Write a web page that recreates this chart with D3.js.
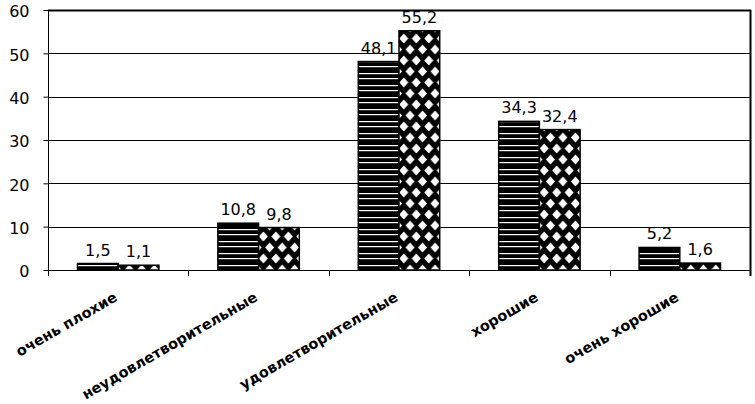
<!DOCTYPE html>
<html>
<head>
<meta charset="utf-8">
<script src="https://cdn.jsdelivr.net/npm/d3@7"></script>
<style>
  html, body { margin: 0; padding: 0; background: #fff; }
  svg { display: block; }
</style>
</head>
<body>
<svg id="chart" width="755" height="404"></svg>
<script>
const categories = ["очень плохие", "неудовлетворительные", "удовлетворительные", "хорошие", "очень хорошие"];
const seriesNames = ["s1", "s2"];
const series1 = [1.5, 10.8, 48.1, 34.3, 5.2];
const series2 = [1.1, 9.8, 55.2, 32.4, 1.6];
const yTicks = [0, 10, 20, 30, 40, 50, 60];

const svg = d3.select("#chart");
const mLeft = 48, mRight = 750, mTop = 10, mBottom = 270;

const x = d3.scaleBand().domain(categories).range([mLeft, mRight]).padding(0);
const bw = x.bandwidth();
const x1 = d3.scaleBand().domain(seriesNames).range([bw * 0.21, bw * 0.79]).padding(0);
const y = d3.scaleLinear().domain([0, 60]).range([mBottom, mTop]);

// patterns
const defs = svg.append("defs");
const pStr = defs.append("pattern").attr("id", "stripes")
  .attr("patternUnits", "userSpaceOnUse").attr("width", 8).attr("height", 12);
pStr.append("rect").attr("width", 8).attr("height", 12).attr("fill", "#000");
pStr.append("rect").attr("x", 0).attr("y", 1).attr("width", 8).attr("height", 1.2).attr("fill", "#fff");
pStr.append("rect").attr("x", 0).attr("y", 6).attr("width", 8).attr("height", 1.2).attr("fill", "#fff");

const pDia = defs.append("pattern").attr("id", "diamonds")
  .attr("patternUnits", "userSpaceOnUse").attr("width", 12.5).attr("height", 22);
pDia.append("rect").attr("width", 12.5).attr("height", 22).attr("fill", "#000");
pDia.append("path").attr("fill", "#fff")
  .attr("d", "M6.25 0.5L10.75 5.5L6.25 10.5L1.75 5.5Z" +
             "M0 11.5L4.5 16.5L0 21.5L-4.5 16.5Z" +
             "M12.5 11.5L17 16.5L12.5 21.5L8 16.5Z");

const fills = ["url(#stripes)", "url(#diamonds)"];

// gridlines
svg.append("g").selectAll("line").data(yTicks.filter(d => d > 0 && d < 60)).join("line")
  .attr("x1", mLeft).attr("x2", mRight)
  .attr("y1", d => Math.round(y(d)) + 0.5).attr("y2", d => Math.round(y(d)) + 0.5)
  .attr("stroke", "#000").attr("stroke-width", 1);

// plot border top / right
svg.append("line").attr("x1", mLeft).attr("x2", mRight + 1).attr("y1", mTop + 0.5).attr("y2", mTop + 0.5)
  .attr("stroke", "#000").attr("stroke-width", 2);
svg.append("line").attr("x1", mRight + 0.5).attr("x2", mRight + 0.5).attr("y1", mTop).attr("y2", mBottom + 6)
  .attr("stroke", "#000").attr("stroke-width", 2);

// y axis
const yAxis = d3.axisLeft(y).tickValues(yTicks).tickSize(5).tickPadding(14);
const gy = svg.append("g").attr("transform", `translate(${mLeft + 0.5},0)`).call(yAxis);
gy.select(".domain").remove();
gy.selectAll(".tick line").attr("stroke", "#000");
gy.selectAll(".tick text").attr("font-family", "DejaVu Sans, Verdana, sans-serif")
  .attr("font-size", 16).attr("fill", "#000").attr("dy", "0.42em");
svg.append("line").attr("x1", mLeft + 0.5).attr("x2", mLeft + 0.5).attr("y1", mTop).attr("y2", mBottom + 6)
  .attr("stroke", "#000");

// bars
const data = categories.map((c, i) => ({ c, vals: [series1[i], series2[i]] }));
const groups = svg.append("g").selectAll("g").data(data).join("g")
  .attr("transform", d => `translate(${x(d.c)},0)`);
groups.selectAll("rect").data(d => d.vals.map((v, j) => ({ v, s: seriesNames[j], j }))).join("rect")
  .attr("x", d => x1(d.s))
  .attr("width", x1.bandwidth())
  .attr("y", d => y(d.v))
  .attr("height", d => y(0) - y(d.v))
  .attr("fill", d => fills[d.j])
  .attr("stroke", "#000").attr("stroke-width", 1.5);

// value labels
const fmt = v => d3.format(".1f")(v).replace(".", ",");
groups.selectAll("text.val").data(d => d.vals.map((v, j) => ({ v, s: seriesNames[j], j }))).join("text")
  .attr("class", "val")
  .attr("x", d => x1(d.s) + x1.bandwidth() / 2)
  .attr("y", d => y(d.v) - 8)
  .attr("text-anchor", "middle")
  .attr("font-family", "DejaVu Sans, Verdana, sans-serif")
  .attr("font-size", 16).attr("fill", "#000")
  .text(d => fmt(d.v));

// x axis
svg.append("line").attr("x1", mLeft).attr("x2", mRight).attr("y1", mBottom + 0.5).attr("y2", mBottom + 0.5)
  .attr("stroke", "#000");
const bounds = categories.map(c => x(c)).slice(1);
svg.append("g").selectAll("line").data(bounds).join("line")
  .attr("x1", d => Math.round(d) + 0.5).attr("x2", d => Math.round(d) + 0.5)
  .attr("y1", mBottom).attr("y2", mBottom + 6).attr("stroke", "#000");

svg.append("g").selectAll("text").data(categories).join("text")
  .attr("transform", d => `translate(${x(d) + bw / 2},300) rotate(-30)`)
  .attr("text-anchor", "end")
  .attr("font-family", "DejaVu Sans, Verdana, sans-serif")
  .attr("font-weight", "bold")
  .attr("font-size", 14.5).attr("fill", "#000")
  .text(d => d);
</script>
</body>
</html>
